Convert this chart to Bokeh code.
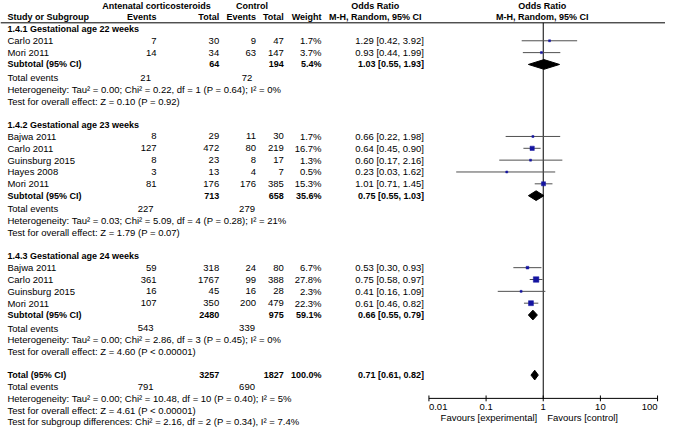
from bokeh.plotting import figure
from bokeh.models import Range1d, LogScale, ColumnDataSource
from bokeh.core.properties import value
from bokeh.embed import file_html
from bokeh.resources import INLINE

# ---------------- data ----------------
group_titles = ["1.4.1 Gestational age 22 weeks",
                "1.4.2 Gestational age 23 weeks",
                "1.4.3 Gestational age 24 weeks"]

g1_names = ["Carlo 2011", "Mori 2011"]
g1_exp_ev = [7, 14]
g1_exp_n = [30, 34]
g1_ctl_ev = [9, 63]
g1_ctl_n = [47, 147]
g1_weight = [1.7, 3.7]
g1_or = [1.29, 0.93]
g1_lo = [0.42, 0.44]
g1_hi = [3.92, 1.99]

g2_names = ["Bajwa 2011", "Carlo 2011", "Guinsburg 2015", "Hayes 2008", "Mori 2011"]
g2_exp_ev = [8, 127, 8, 3, 81]
g2_exp_n = [29, 472, 23, 13, 176]
g2_ctl_ev = [11, 80, 8, 4, 176]
g2_ctl_n = [30, 219, 17, 7, 385]
g2_weight = [1.7, 16.7, 1.3, 0.5, 15.3]
g2_or = [0.66, 0.64, 0.60, 0.23, 1.01]
g2_lo = [0.22, 0.45, 0.17, 0.03, 0.71]
g2_hi = [1.98, 0.90, 2.16, 1.62, 1.45]

g3_names = ["Bajwa 2011", "Carlo 2011", "Guinsburg 2015", "Mori 2011"]
g3_exp_ev = [59, 361, 16, 107]
g3_exp_n = [318, 1767, 45, 350]
g3_ctl_ev = [24, 99, 16, 200]
g3_ctl_n = [80, 388, 28, 479]
g3_weight = [6.7, 27.8, 2.3, 22.3]
g3_or = [0.53, 0.75, 0.41, 0.61]
g3_lo = [0.30, 0.58, 0.16, 0.46]
g3_hi = [0.93, 0.97, 1.09, 0.82]

sub_exp_n = [64, 713, 2480]
sub_ctl_n = [194, 658, 975]
sub_weight = [5.4, 35.6, 59.1]
sub_or = [1.03, 0.75, 0.66]
sub_lo = [0.55, 0.55, 0.55]
sub_hi = [1.93, 1.03, 0.79]
sub_exp_events = [21, 227, 543]
sub_ctl_events = [72, 279, 339]
sub_het = ["Heterogeneity: Tau² = 0.00; Chi² = 0.22, df = 1 (P = 0.64); I² = 0%",
           "Heterogeneity: Tau² = 0.03; Chi² = 5.09, df = 4 (P = 0.28); I² = 21%",
           "Heterogeneity: Tau² = 0.00; Chi² = 2.86, df = 3 (P = 0.45); I² = 0%"]
sub_test = ["Test for overall effect: Z = 0.10 (P = 0.92)",
            "Test for overall effect: Z = 1.79 (P = 0.07)",
            "Test for overall effect: Z = 4.60 (P < 0.00001)"]

tot_exp_n = 3257
tot_ctl_n = 1827
tot_weight = 100.0
tot_or, tot_lo, tot_hi = 0.71, 0.61, 0.82
tot_exp_events = 791
tot_ctl_events = 690
tot_het = "Heterogeneity: Tau² = 0.00; Chi² = 10.48, df = 10 (P = 0.40); I² = 5%"
tot_test = "Test for overall effect: Z = 4.61 (P < 0.00001)"
subgroup_test = "Test for subgroup differences: Chi² = 2.16, df = 2 (P = 0.34), I² = 7.4%"

axis_ticks = [0.01, 0.1, 1, 10, 100]
axis_labels = ["0.01", "0.1", "1", "10", "100"]
favours_left = "Favours [experimental]"
favours_right = "Favours [control]"

groups = [
    (g1_names, g1_exp_ev, g1_exp_n, g1_ctl_ev, g1_ctl_n, g1_weight, g1_or, g1_lo, g1_hi),
    (g2_names, g2_exp_ev, g2_exp_n, g2_ctl_ev, g2_ctl_n, g2_weight, g2_or, g2_lo, g2_hi),
    (g3_names, g3_exp_ev, g3_exp_n, g3_ctl_ev, g3_ctl_n, g3_weight, g3_or, g3_lo, g3_hi),
]

# ---------------- layout ----------------
W, H = 665, 427
X0, X1 = 3, 672
Y0, Y1 = 0, 440
X_ONE, DEC = 549.0, 57.5          # position of OR = 1 and width of one decade
FONT = "Liberation Sans"
FS = "9.5px"
FSB = "9px"

C_NAME = 10
C_EXP_EV, C_EXP_N, C_CTL_EV, C_CTL_N, C_W, C_OR = 160, 223, 260, 288, 326, 429
C_TE1, C_TE2 = 149, 251

p = figure(width=W, height=H, x_range=Range1d(X0, X1), y_range=Range1d(Y1, Y0),
           output_backend="svg", toolbar_location=None, min_border=0,
           x_axis_location=None, y_axis_location=None)
p.grid.visible = False
p.outline_line_color = None
p.background_fill_color = "white"
p.extra_x_ranges = {"or": Range1d(10 ** ((X0 - X_ONE) / DEC), 10 ** ((X1 - X_ONE) / DEC))}
p.extra_x_scales = {"or": LogScale()}

reg = dict(x=[], y=[], t=[], a=[])
bld = dict(x=[], y=[], t=[], a=[])


def put(x, y, t, align="left", bold=False):
    d = bld if bold else reg
    d["x"].append(x); d["y"].append(y); d["t"].append(str(t)); d["a"].append(align)


def fmt_ci(e, l, h):
    return f"{e:.2f} [{l:.2f}, {h:.2f}]"


# headers
put(160, 5.5, "Antenatal corticosteroids", "center", True)
put(256, 5.5, "Control", "center", True)
put(380, 5.5, "Odds Ratio", "center", True)
put(548, 5.5, "Odds Ratio", "center", True)
put(C_NAME, 16.5, "Study or Subgroup", "left", True)
put(C_EXP_EV, 16.5, "Events", "right", True)
put(C_EXP_N, 16.5, "Total", "right", True)
put(C_CTL_EV, 16.5, "Events", "right", True)
put(C_CTL_N, 16.5, "Total", "right", True)
put(C_W, 16.5, "Weight", "right", True)
put(380, 16.5, "M-H, Random, 95% CI", "center", True)
put(548, 16.5, "M-H, Random, 95% CI", "center", True)

sq_x, sq_y, sq_s = [], [], []
ci_x0, ci_x1, ci_y = [], [], []
dia_xs, dia_ys = [], []
HALF = 5.0

y = 29.5
for gi, (names, eev, en, cev, cn, wt, orr, lo, hi) in enumerate(groups):
    put(C_NAME, y, group_titles[gi], "left", True)
    y += 12.0
    for k in range(len(names)):
        put(C_NAME, y, names[k])
        put(C_EXP_EV, y, eev[k], "right")
        put(C_EXP_N, y, en[k], "right")
        put(C_CTL_EV, y, cev[k], "right")
        put(C_CTL_N, y, cn[k], "right")
        put(C_W, y, f"{wt[k]:.1f}%", "right")
        put(C_OR, y, fmt_ci(orr[k], lo[k], hi[k]), "right")
        ci_x0.append(lo[k]); ci_x1.append(hi[k]); ci_y.append(y)
        sq_x.append(orr[k]); sq_y.append(y); sq_s.append(max(2.0, 1.05 * wt[k] ** 0.5))
        y += 12.2
    put(C_NAME, y, "Subtotal (95% CI)", "left", True)
    put(C_EXP_N, y, sub_exp_n[gi], "right", True)
    put(C_CTL_N, y, sub_ctl_n[gi], "right", True)
    put(C_W, y, f"{sub_weight[gi]:.1f}%", "right", True)
    put(C_OR, y, fmt_ci(sub_or[gi], sub_lo[gi], sub_hi[gi]), "right", True)
    dia_xs.append([sub_lo[gi], sub_or[gi], sub_hi[gi], sub_or[gi]])
    dia_ys.append([y, y - HALF, y, y + HALF])
    y += 13.5
    put(C_NAME, y, "Total events")
    put(C_TE1, y, sub_exp_events[gi], "center")
    put(C_TE2, y, sub_ctl_events[gi], "center")
    y += 12.2
    put(C_NAME, y, sub_het[gi])
    y += 12.2
    put(C_NAME, y, sub_test[gi])
    y += 24.3

y -= 0.3
put(C_NAME, y, "Total (95% CI)", "left", True)
put(C_EXP_N, y, tot_exp_n, "right", True)
put(C_CTL_N, y, tot_ctl_n, "right", True)
put(C_W, y, f"{tot_weight:.1f}%", "right", True)
put(C_OR, y, fmt_ci(tot_or, tot_lo, tot_hi), "right", True)
dia_xs.append([tot_lo, tot_or, tot_hi, tot_or])
dia_ys.append([y, y - HALF, y, y + HALF])
y += 12.0
put(C_NAME, y, "Total events")
put(C_TE1, y, tot_exp_events, "center")
put(C_TE2, y, tot_ctl_events, "center")
y += 12.0
put(C_NAME, y, tot_het)
y += 12.0
put(C_NAME, y, tot_test)
y += 11.7
put(C_NAME, y, subgroup_test)

AX_Y = 410.0

# header rule
p.segment(x0=[X0], x1=[X1], y0=[23], y1=[23], line_color="black", line_width=1)
# line of no effect
p.segment(x0=[1], x1=[1], y0=[23], y1=[AX_Y], line_color="black", line_width=1,
          x_range_name="or")
# CIs
p.segment(x0=ci_x0, x1=ci_x1, y0=ci_y, y1=ci_y, line_color="#505050", line_width=1,
          x_range_name="or")
# squares
p.scatter(x=sq_x, y=sq_y, size=sq_s, marker="square", fill_color="#1414a0",
          line_color="#1414a0", line_width=0.5, x_range_name="or")
# diamonds
p.patches(xs=dia_xs, ys=dia_ys, fill_color="black", line_color="black",
          x_range_name="or")

# axis
p.segment(x0=[axis_ticks[0]], x1=[axis_ticks[-1]], y0=[AX_Y], y1=[AX_Y],
          line_color="black", line_width=1, x_range_name="or")
p.segment(x0=axis_ticks, x1=axis_ticks, y0=[AX_Y - 3] * len(axis_ticks),
          y1=[AX_Y + 3] * len(axis_ticks), line_color="black", line_width=1,
          x_range_name="or")
tick_align = ["left"] + ["center"] * (len(axis_ticks) - 2) + ["right"]
p.text(x=axis_ticks, y=[AX_Y + 8.5] * len(axis_ticks), text=axis_labels,
       text_align=tick_align, text_baseline="middle",
       text_font=value(FONT), text_font_size=value(FS), text_color="black",
       x_range_name="or")
p.text(x=[1], y=[AX_Y + 19.5], text=[favours_left], text_align="right",
       text_baseline="middle", x_offset=-6, text_font=value(FONT),
       text_font_size=value(FS), text_color="black", x_range_name="or")
p.text(x=[1], y=[AX_Y + 19.5], text=[favours_right], text_align="left",
       text_baseline="middle", x_offset=4, text_font=value(FONT),
       text_font_size=value(FS), text_color="black", x_range_name="or")

p.text(x="x", y="y", text="t", text_align="a", text_baseline="middle",
       text_font=value(FONT), text_font_size=value(FS), text_color="black",
       source=ColumnDataSource(reg))
p.text(x="x", y="y", text="t", text_align="a", text_baseline="middle",
       text_font_style="bold", text_font=value(FONT), text_font_size=value(FSB),
       text_color="black", source=ColumnDataSource(bld))

open("out.html", "w").write(file_html(p, INLINE))
